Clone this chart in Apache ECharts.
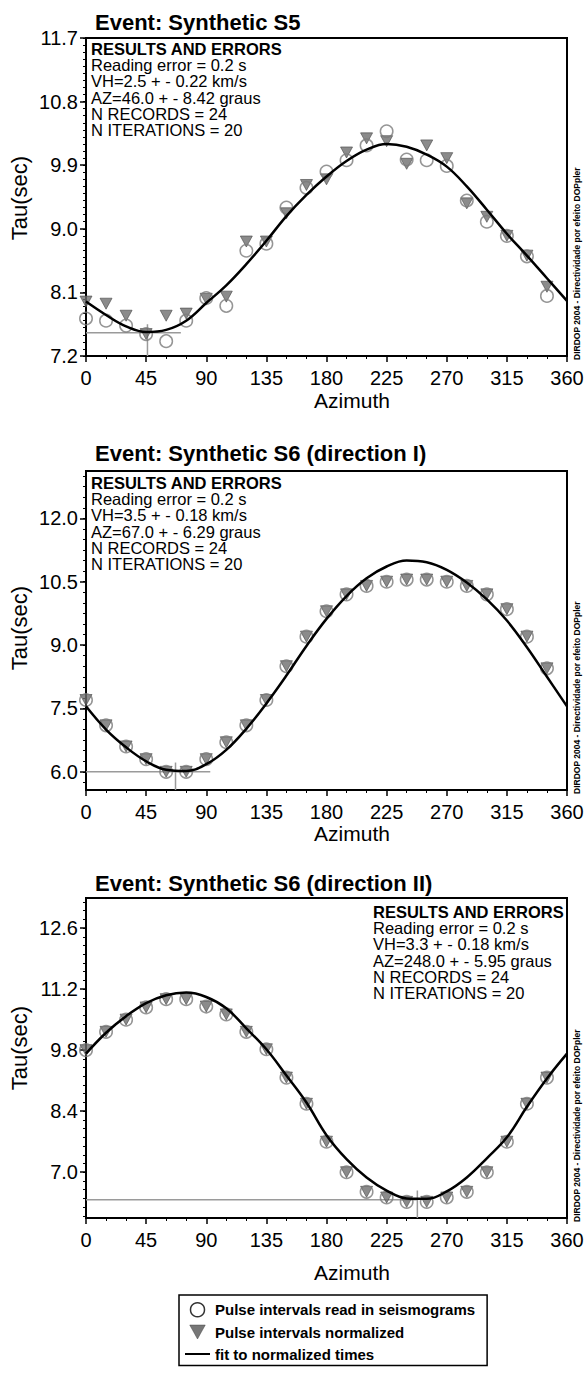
<!DOCTYPE html>
<html><head><meta charset="utf-8">
<script src="https://cdn.jsdelivr.net/npm/echarts@6/dist/echarts.min.js"></script>
<style>html,body{margin:0;padding:0;background:#fff}#c{width:584px;height:1377px}</style>
</head><body><div id="c"></div>
<script>
// ---------------- data ----------------
const az24 = [0,15,30,45,60,75,90,105,120,135,150,165,180,195,210,225,240,255,270,285,300,315,330,345];
const azFit = [0,15,30,45,60,75,90,105,120,135,150,165,180,195,210,225,240,255,270,285,300,315,330,345,360];
const xTicks = [0,45,90,135,180,225,270,315,360];

// Event S5
const s5Read = [7.73,7.70,7.63,7.51,7.41,7.70,8.02,7.91,8.69,8.79,9.30,9.58,9.81,9.97,10.18,10.38,9.98,9.97,9.89,9.40,9.10,8.90,8.61,8.05];
const s5Norm = [7.97,7.94,7.77,7.51,7.77,7.80,8.01,8.04,8.82,8.82,9.22,9.62,9.70,10.08,10.28,10.24,9.92,10.18,10.00,9.36,9.17,8.90,8.62,8.18];
const s5Fit  = [7.97,7.78,7.62,7.54,7.57,7.70,7.95,8.20,8.50,8.83,9.18,9.48,9.74,9.96,10.12,10.20,10.16,10.05,9.88,9.60,9.27,8.93,8.62,8.30,7.98];
// Event S6 (direction I)
const s6aRead = [7.7,7.1,6.6,6.3,6.0,6.0,6.3,6.7,7.1,7.7,8.5,9.2,9.8,10.2,10.4,10.5,10.55,10.55,10.5,10.4,10.2,9.85,9.2,8.45];
const s6aNorm = [7.7,7.1,6.6,6.3,6.0,6.0,6.3,6.7,7.1,7.7,8.5,9.2,9.8,10.2,10.4,10.5,10.55,10.55,10.5,10.4,10.2,9.85,9.2,8.45];
const s6aFit  = [7.55,7.0,6.58,6.25,6.05,6.02,6.18,6.52,7.02,7.62,8.28,8.98,9.62,10.16,10.58,10.86,11.0,10.96,10.78,10.48,10.08,9.58,8.95,8.25,7.55];
// Event S6 (direction II)
const s6bRead = [9.8,10.22,10.5,10.78,10.97,10.97,10.8,10.62,10.22,9.82,9.17,8.57,7.7,7.0,6.55,6.42,6.32,6.32,6.42,6.55,7.0,7.7,8.57,9.17];
const s6bNorm = [9.8,10.22,10.5,10.78,10.97,10.97,10.8,10.62,10.22,9.82,9.17,8.57,7.7,7.0,6.55,6.42,6.32,6.32,6.42,6.55,7.0,7.7,8.57,9.17];
const s6bFit  = [9.72,10.2,10.58,10.88,11.06,11.12,11.02,10.76,10.3,9.82,9.22,8.6,7.85,7.3,6.88,6.58,6.4,6.39,6.56,6.88,7.32,7.8,8.5,9.15,9.72];

// y axes
const yMin = [7.2, 5.57, 5.95];
const yMax = [11.7, 13.12, 13.29];
const yTicksS5 = [7.2,8.1,9.0,9.9,10.8,11.7];
const yTicksS6a = [6.0,7.5,9.0,10.5,12.0];
const yTicksS6b = [7.0,8.4,9.8,11.2,12.6];
const yMinorStep = [0.1, 0.25, 0.2];

// fitted azimuth cross marks
const crossAz = [46, 67, 248];
const crossTau = [7.53, 6.0, 6.37];
const crossHEnd = [71, 93, 248];
const crossVTop = [7.65, 6.22, 6.58];

const titles = ['Event: Synthetic S5','Event: Synthetic S6 (direction I)','Event: Synthetic S6 (direction II)'];
const infoS5 = ['RESULTS AND ERRORS','Reading error = 0.2 s','VH=2.5 + - 0.22 km/s','AZ=46.0 + - 8.42 graus','N RECORDS = 24','N ITERATIONS = 20'];
const infoS6a = ['RESULTS AND ERRORS','Reading error = 0.2 s','VH=3.5 + - 0.18 km/s','AZ=67.0 + - 6.29 graus','N RECORDS = 24','N ITERATIONS = 20'];
const infoS6b = ['RESULTS AND ERRORS','Reading error = 0.2 s','VH=3.3 + - 0.18 km/s','AZ=248.0 + - 5.95 graus','N RECORDS = 24','N ITERATIONS = 20'];
const sideNote = 'DIRDOP 2004 - Directividade por efeito DOPpler';
const nameRead = 'Pulse intervals read in seismograms';
const nameNorm = 'Pulse intervals normalized';
const nameFit = 'fit to normalized times';

// ---------------- layout ----------------
const FONT = '"Liberation Sans", Arial, Helvetica, sans-serif';
const L = [
  {top: 38,  height: 318, titleY: 22,  nameY: 400,  tauY: 198,  infoX: 91,  infoY: 49},
  {top: 471, height: 319, titleY: 453, nameY: 833,  tauY: 628,  infoX: 91,  infoY: 483},
  {top: 898, height: 320, titleY: 883, nameY: 1272, tauY: 1048, infoX: 373, infoY: 912}
];
const GL = 86, GW = 481;

const reads = [s5Read, s6aRead, s6bRead];
const norms = [s5Norm, s6aNorm, s6bNorm];
const fits = [s5Fit, s6aFit, s6bFit];
const majors = [yTicksS5, yTicksS6a, yTicksS6b];
const infos = [infoS5, infoS6a, infoS6b];

function pairs(xs, ys){ return xs.map((x,i)=>[x, ys[i]]); }
function minorTicks(i){
  const out = [], st = yMinorStep[i];
  const start = Math.ceil(yMin[i]/st - 1e-9);
  for (let k = start; k*st <= yMax[i] + 1e-9; k++) out.push(+(k*st).toFixed(3));
  return out;
}

const grid = [], xAxis = [], yAxis = [], series = [], graphic = [];
for (let i = 0; i < 3; i++) {
  grid.push({left: GL, top: L[i].top, width: GW, height: L[i].height, show: true,
    borderColor: '#000', borderWidth: 2, backgroundColor: 'transparent', containLabel: false, outerBoundsMode: 'none'});
  xAxis.push({gridIndex: i, type: 'value', min: 0, max: 360, interval: 45,
    axisLine: {onZero: false, lineStyle: {color: '#000', width: 2}},
    axisTick: {inside: false, length: 6, lineStyle: {color: '#000', width: 1.5}},
    minorTick: {show: true, splitNumber: 3, length: 3, lineStyle: {color: '#000', width: 1}},
    axisLabel: {color: '#000', fontSize: 20, fontFamily: FONT, margin: 12},
    splitLine: {show: false}, minorSplitLine: {show: false}});
  const yi = yAxis.length;
  yAxis.push({gridIndex: i, type: 'value', min: yMin[i], max: yMax[i], position: 'left',
    axisLine: {onZero: false, lineStyle: {color: '#000', width: 2}},
    axisTick: {inside: false, length: 6, customValues: majors[i], lineStyle: {color: '#000', width: 1.5}},
    axisLabel: {customValues: majors[i], color: '#000', fontSize: 20, fontFamily: FONT, margin: 8,
      formatter: v => Number(v).toFixed(1)},
    splitLine: {show: false}});
  yAxis.push({gridIndex: i, type: 'value', min: yMin[i], max: yMax[i], position: 'left',
    axisLine: {show: false},
    axisTick: {inside: false, length: 3, customValues: minorTicks(i), lineStyle: {color: '#000', width: 1}},
    axisLabel: {show: false}, splitLine: {show: false}});

  // cross marks at fitted azimuth
  series.push({type: 'line', xAxisIndex: i, yAxisIndex: yi, silent: true, symbol: 'none', z: 1,
    lineStyle: {color: '#9a9a9a', width: 1.5},
    data: [[0, crossTau[i]], [crossHEnd[i], crossTau[i]]]});
  series.push({type: 'line', xAxisIndex: i, yAxisIndex: yi, silent: true, symbol: 'none', z: 1,
    lineStyle: {color: '#9a9a9a', width: 1.5},
    data: [[crossAz[i], yMin[i]], [crossAz[i], crossVTop[i]]]});
  series.push({name: nameNorm, type: 'scatter', xAxisIndex: i, yAxisIndex: yi, z: 3,
    symbol: 'triangle', symbolRotate: 180, symbolSize: [12, 11],
    itemStyle: {color: '#6e6e6e', borderColor: '#4a4a4a', borderWidth: 0.8},
    data: pairs(az24, norms[i])});
  series.push({name: nameRead, type: 'scatter', xAxisIndex: i, yAxisIndex: yi, z: 4,
    symbol: 'circle', symbolSize: 12.5,
    itemStyle: {color: 'rgba(255,255,255,0)', borderColor: '#7a7a7a', borderWidth: 1.5},
    data: pairs(az24, reads[i])});
  series.push({name: nameFit, type: 'line', xAxisIndex: i, yAxisIndex: yi, z: 5,
    smooth: 0.4, symbol: 'none', showSymbol: false,
    lineStyle: {color: '#000', width: 2.5}, itemStyle: {color: '#000'},
    data: pairs(azFit, fits[i])});

  // texts
  graphic.push({type: 'text', x: 95, y: L[i].titleY,
    style: {text: titles[i], font: 'bold 22px ' + FONT, fill: '#000', textVerticalAlign: 'middle', textAlign: 'left'}});
  graphic.push({type: 'text', x: 352, y: L[i].nameY,
    style: {text: 'Azimuth', font: '21px ' + FONT, fill: '#000', textVerticalAlign: 'middle', textAlign: 'center'}});
  graphic.push({type: 'text', x: 19, y: L[i].tauY, rotation: Math.PI / 2,
    style: {text: 'Tau(sec)', font: '22px ' + FONT, fill: '#000', textVerticalAlign: 'middle', textAlign: 'center'}});
  infos[i].forEach((line, k) => {
    graphic.push({type: 'text', x: L[i].infoX, y: L[i].infoY + k * 16.2,
      style: {text: line, font: (k === 0 ? 'bold ' : '') + '16.5px ' + FONT, fill: '#000',
        textVerticalAlign: 'middle', textAlign: 'left'}});
  });
  graphic.push({type: 'text', x: 577, y: L[i].top + L[i].height + 4, rotation: Math.PI / 2,
    style: {text: sideNote, font: 'bold 8.5px ' + FONT, fill: '#000', textVerticalAlign: 'middle', textAlign: 'left'}});
}

const option = {
  animation: false,
  backgroundColor: '#fff',
  textStyle: {fontFamily: FONT},
  grid, xAxis, yAxis, series, graphic,
  legend: {
    orient: 'vertical', left: 179, top: 1295,
    padding: [7, 12, 4, 6], itemGap: 7, itemWidth: 25, itemHeight: 14,
    borderColor: '#000', borderWidth: 1.5, borderRadius: 0, backgroundColor: '#fff',
    selectedMode: false,
    textStyle: {fontWeight: 'bold', fontSize: 15, color: '#000', fontFamily: FONT},
    data: [
      {name: nameRead, icon: 'circle', itemStyle: {color: '#fff', borderColor: '#000', borderWidth: 1.5}},
      {name: nameNorm, icon: 'path://M0,0L10,0L5,9Z', itemStyle: {color: '#555', borderColor: '#333', borderWidth: 0.5}},
      {name: nameFit, icon: 'path://M0,0H25V2H0Z', itemStyle: {color: '#000'}}
    ]
  }
};

const chart = echarts.init(document.getElementById('c'), null, {renderer: 'svg', width: 584, height: 1377});
chart.setOption(option);
</script>
</body></html>
